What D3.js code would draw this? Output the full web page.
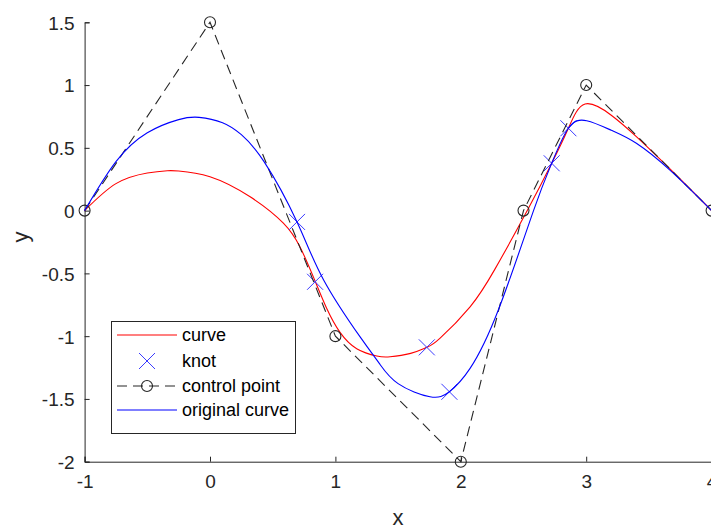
<!DOCTYPE html>
<html>
<head>
<meta charset="utf-8">
<script src="https://cdn.jsdelivr.net/npm/d3@7"></script>
<style>
  html, body { margin: 0; padding: 0; background: #fff; }
  svg { display: block; font-family: "Liberation Sans", Arial, Helvetica, sans-serif; }
</style>
</head>
<body>
<svg id="chart" width="711" height="527"></svg>
<script>
// Fitted spline ("curve")
const curveX = [-1, -0.75, -0.5, -0.34, -0.25, 0, 0.32, 0.585, 0.718, 0.825, 0.931, 1.037, 1.17, 1.33, 1.436, 1.6, 1.729, 1.833, 2.074, 2.27, 2.53, 2.725, 2.858, 2.991, 3.2, 3.4, 3.67, 4];
const curveY = [0, 0.215, 0.3, 0.318, 0.316, 0.27, 0.11, -0.1, -0.29, -0.53, -0.78, -0.97, -1.1, -1.158, -1.164, -1.137, -1.089, -1.018, -0.766, -0.47, 0, 0.377, 0.656, 0.849, 0.76, 0.589, 0.33, 0];

// Original curve
const origX = [-1, -0.75, -0.5, -0.25, -0.087, 0.1, 0.25, 0.431, 0.694, 0.905, 1.2, 1.35, 1.5, 1.754, 1.909, 2.074, 2.3, 2.58, 2.725, 2.858, 3.004, 3.2, 3.4, 3.67, 4];
const origY = [0, 0.39, 0.62, 0.725, 0.743, 0.7, 0.605, 0.39, -0.09, -0.55, -1.01, -1.217, -1.378, -1.483, -1.443, -1.257, -0.79, 0, 0.377, 0.656, 0.716, 0.64, 0.536, 0.32, 0];

// Knots
const knotX = [0.694, 0.838, 1.729, 1.909, 2.725, 2.858];
const knotY = [-0.09, -0.567, -1.089, -1.443, 0.377, 0.656];

// Control polygon
const ctrlX = [-1, 0, 1, 2, 2.5, 3, 4];
const ctrlY = [0, 1.5, -1, -2, 0, 1, 0];

// Axis ticks and legend
const xTicks = [-1, 0, 1, 2, 3, 4];
const yTicks = [-2, -1.5, -1, -0.5, 0, 0.5, 1, 1.5];
const legendLabels = ["curve", "knot", "control point", "original curve"];

const zip = (xs, ys) => xs.map((x, i) => [x, ys[i]]);

const svg = d3.select("#chart");
const x = d3.scaleLinear().domain([-1, 4]).range([84.6, 711.6]);
const y = d3.scaleLinear().domain([-2, 1.5]).range([461.7, 22.3]);

const axisColor = "#262626";
const plain = d => String(d);

// Axes (ticks point inward)
const gx = svg.append("g").attr("transform", `translate(0,${y(-2)})`)
  .call(d3.axisBottom(x).tickValues(xTicks).tickSize(-5).tickPadding(13).tickFormat(plain));
const gy = svg.append("g").attr("transform", `translate(${x(-1)},0)`)
  .call(d3.axisLeft(y).tickValues(yTicks).tickSize(-5).tickPadding(10).tickFormat(plain));
[gx, gy].forEach(g => {
  g.select(".domain").attr("stroke", axisColor).attr("stroke-width", 1);
  g.selectAll(".tick line").attr("stroke", axisColor);
  g.selectAll(".tick text").attr("fill", "#262626").attr("font-size", 19)
    .attr("font-family", "Liberation Sans, Arial, sans-serif");
});
gy.selectAll(".tick text").attr("dy", "0.36em");

// Axis labels
svg.append("text").attr("x", 398).attr("y", 525).attr("text-anchor", "middle")
  .attr("font-size", 22).attr("fill", "#262626").text("x");
svg.append("text").attr("transform", "translate(28,237) rotate(-90)").attr("text-anchor", "middle")
  .attr("font-size", 22).attr("fill", "#262626").text("y");

const line = d3.line().x(d => x(d[0])).y(d => y(d[1]));
const smooth = d3.line().x(d => x(d[0])).y(d => y(d[1])).curve(d3.curveNatural);

const plot = svg.append("g");

// Red fitted curve
plot.append("path").datum(zip(curveX, curveY)).attr("d", smooth)
  .attr("fill", "none").attr("stroke", "#ff0000").attr("stroke-width", 1.1);

// Knot markers
const xMark = (cx, cy, r) => `M${cx - r},${cy - r}L${cx + r},${cy + r}M${cx - r},${cy + r}L${cx + r},${cy - r}`;
plot.selectAll(".knot").data(zip(knotX, knotY)).join("path").attr("class", "knot")
  .attr("d", d => xMark(x(d[0]), y(d[1]), 8))
  .attr("fill", "none").attr("stroke", "#3b3bff").attr("stroke-width", 1);

// Control polygon
plot.append("path").datum(zip(ctrlX, ctrlY)).attr("d", line)
  .attr("fill", "none").attr("stroke", "#262626").attr("stroke-width", 1.1)
  .attr("stroke-dasharray", "10,6");
plot.selectAll(".ctrl").data(zip(ctrlX, ctrlY)).join("circle").attr("class", "ctrl")
  .attr("cx", d => x(d[0])).attr("cy", d => y(d[1])).attr("r", 5.5)
  .attr("fill", "none").attr("stroke", "#262626").attr("stroke-width", 1.1);

// Blue original curve
plot.append("path").datum(zip(origX, origY)).attr("d", smooth)
  .attr("fill", "none").attr("stroke", "#0000ff").attr("stroke-width", 1.1);

// Legend
const lg = svg.append("g");
lg.append("rect").attr("x", 111.5).attr("y", 321.5).attr("width", 184).attr("height", 112)
  .attr("fill", "#fff").attr("stroke", axisColor).attr("stroke-width", 1);
const rowY = [335, 361, 386, 410];
const lx0 = 117, lx1 = 177, lxc = 147;
lg.append("line").attr("x1", lx0).attr("x2", lx1).attr("y1", rowY[0]).attr("y2", rowY[0])
  .attr("stroke", "#ff0000").attr("stroke-width", 1.1);
lg.append("path").attr("d", xMark(lxc, rowY[1], 8)).attr("fill", "none")
  .attr("stroke", "#3b3bff").attr("stroke-width", 1);
lg.append("line").attr("x1", lx0).attr("x2", lx1).attr("y1", rowY[2]).attr("y2", rowY[2])
  .attr("stroke", "#262626").attr("stroke-width", 1.1).attr("stroke-dasharray", "10,6");
lg.append("circle").attr("cx", lxc).attr("cy", rowY[2]).attr("r", 5.5)
  .attr("fill", "none").attr("stroke", "#262626").attr("stroke-width", 1.1);
lg.append("line").attr("x1", lx0).attr("x2", lx1).attr("y1", rowY[3]).attr("y2", rowY[3])
  .attr("stroke", "#0000ff").attr("stroke-width", 1.1);
lg.selectAll(".lt").data(legendLabels).join("text").attr("class", "lt")
  .attr("x", 182).attr("y", (d, i) => rowY[i]).attr("dy", "0.35em")
  .attr("font-size", 18).attr("fill", "#000").text(d => d);
</script>
</body>
</html>
